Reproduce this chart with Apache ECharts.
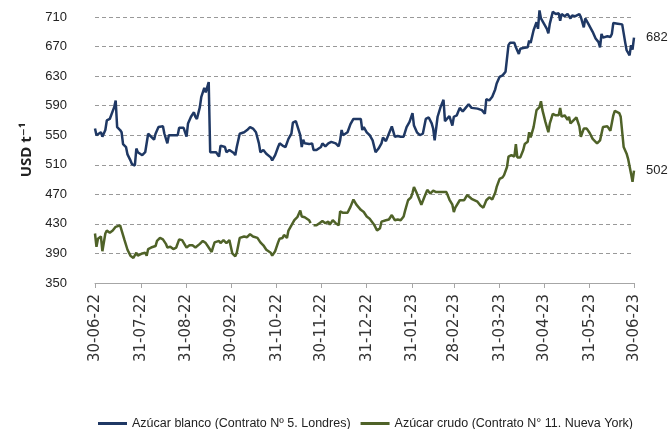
<!DOCTYPE html>
<html><head><meta charset="utf-8">
<script src="https://cdn.jsdelivr.net/npm/echarts@6/dist/echarts.min.js"></script>
<style>html,body{margin:0;padding:0;background:#fff}#c{width:670px;height:429px}</style>
</head><body><div id="c"></div>
<script>
const seriesNames = ['Azúcar blanco (Contrato Nº 5. Londres)', 'Azúcar crudo (Contrato N° 11. Nueva York)'];
const tickDates = ['2022-06-30','2022-07-31','2022-08-31','2022-09-30','2022-10-31','2022-11-30','2022-12-31','2023-01-31','2023-02-28','2023-03-31','2023-04-30','2023-05-31','2023-06-30'];
const tickLabels = ['30-06-22','31-07-22','31-08-22','30-09-22','31-10-22','30-11-22','31-12-22','31-01-23','28-02-23','31-03-23','30-04-23','31-05-23','30-06-23'];
const yTicks = [350, 390, 430, 470, 510, 550, 590, 630, 670, 710];

const blancoDates = [
'2022-06-30','2022-07-01','2022-07-02','2022-07-04','2022-07-05','2022-07-07','2022-07-08','2022-07-10','2022-07-11','2022-07-13','2022-07-14','2022-07-15','2022-07-17','2022-07-18','2022-07-19','2022-07-21','2022-07-22','2022-07-24','2022-07-25','2022-07-27','2022-07-28','2022-07-29',
'2022-08-01','2022-08-03','2022-08-05','2022-08-06','2022-08-09','2022-08-10','2022-08-12','2022-08-15','2022-08-16','2022-08-18','2022-08-19','2022-08-22','2022-08-25','2022-08-26','2022-08-29','2022-08-31',
'2022-09-01','2022-09-03','2022-09-05','2022-09-06','2022-09-07','2022-09-09','2022-09-10','2022-09-12','2022-09-13','2022-09-14','2022-09-15','2022-09-16','2022-09-18','2022-09-20','2022-09-22','2022-09-23','2022-09-24','2022-09-26','2022-09-27','2022-09-29',
'2022-10-02','2022-10-03','2022-10-04','2022-10-06','2022-10-09','2022-10-11','2022-10-13','2022-10-15','2022-10-17','2022-10-19','2022-10-20','2022-10-22','2022-10-24','2022-10-27','2022-10-28','2022-10-30',
'2022-11-01','2022-11-02','2022-11-04','2022-11-06','2022-11-08','2022-11-10','2022-11-11','2022-11-13','2022-11-14','2022-11-16','2022-11-17','2022-11-18','2022-11-19','2022-11-22','2022-11-24','2022-11-25','2022-11-27','2022-11-30',
'2022-12-01','2022-12-03','2022-12-05','2022-12-07','2022-12-10','2022-12-12','2022-12-13','2022-12-14','2022-12-15','2022-12-18','2022-12-20','2022-12-22','2022-12-25','2022-12-27','2022-12-28','2022-12-29','2022-12-31',
'2023-01-02','2023-01-04','2023-01-06','2023-01-08','2023-01-10','2023-01-11','2023-01-13','2023-01-15','2023-01-17','2023-01-19','2023-01-21','2023-01-23','2023-01-25','2023-01-27','2023-01-29','2023-01-31',
'2023-02-01','2023-02-03','2023-02-05','2023-02-07','2023-02-09','2023-02-11','2023-02-13','2023-02-14','2023-02-15','2023-02-17','2023-02-19','2023-02-21','2023-02-22','2023-02-25','2023-02-27','2023-02-28',
'2023-03-02','2023-03-04','2023-03-06','2023-03-08','2023-03-10','2023-03-12','2023-03-16','2023-03-19','2023-03-21','2023-03-22','2023-03-24','2023-03-26','2023-03-28','2023-03-29','2023-03-31',
'2023-04-02','2023-04-04','2023-04-06','2023-04-07','2023-04-10','2023-04-11','2023-04-13','2023-04-14','2023-04-16','2023-04-19','2023-04-20','2023-04-21','2023-04-23','2023-04-25','2023-04-26','2023-04-27','2023-04-28','2023-04-30',
'2023-05-02','2023-05-03','2023-05-04','2023-05-06','2023-05-08','2023-05-10','2023-05-11','2023-05-12','2023-05-14','2023-05-16','2023-05-18','2023-05-19','2023-05-21','2023-05-24','2023-05-25','2023-05-27','2023-05-28','2023-05-30',
'2023-06-02','2023-06-04','2023-06-06','2023-06-07','2023-06-08','2023-06-09','2023-06-12','2023-06-14','2023-06-15','2023-06-16','2023-06-19','2023-06-22','2023-06-24','2023-06-25','2023-06-27','2023-06-28','2023-06-29','2023-06-30'];
const blancoValues = [
559,550,552,554,548,557,570,572,574,588,597,561,557,554,538,534,524,516,511,509,532,527,
523,527,552,550,544,552,561,562,552,539,550,550,550,560,560,548,
566,575,581,575,572,588,602,614,608,606,622,527,527,527,521,536,534,534,527,530,
526,523,534,552,554,557,561,559,554,539,527,530,525,520,516,523,
534,539,536,534,545,552,567,569,568,550,534,544,539,538,539,530,530,534,
539,535,539,541,539,535,543,557,550,554,565,572,572,572,557,561,554,
550,543,527,532,539,547,542,552,562,548,549,548,548,561,568,580,
563,554,550,552,572,574,566,559,543,575,588,598,569,576,563,575,
577,587,582,587,592,587,586,584,579,599,597,602,612,620,629,
631,636,672,675,675,669,660,667,668,669,678,675,692,703,694,719,708,701,
694,688,701,717,714,715,705,714,711,714,708,712,711,714,710,696,708,701,
690,681,676,669,687,682,684,683,687,702,701,700,676,665,658,672,666,682];

const crudoDates = [
'2022-06-30','2022-07-01','2022-07-02','2022-07-04','2022-07-05','2022-07-07','2022-07-08','2022-07-10','2022-07-12','2022-07-14','2022-07-15','2022-07-17','2022-07-18','2022-07-20','2022-07-22','2022-07-24','2022-07-26','2022-07-28','2022-07-29',
'2022-08-01','2022-08-03','2022-08-04','2022-08-05','2022-08-07','2022-08-10','2022-08-11','2022-08-13','2022-08-15','2022-08-17','2022-08-18','2022-08-20','2022-08-22','2022-08-24','2022-08-26','2022-08-28','2022-08-31',
'2022-09-02','2022-09-04','2022-09-06','2022-09-09','2022-09-11','2022-09-13','2022-09-15','2022-09-17','2022-09-18','2022-09-19','2022-09-22','2022-09-23','2022-09-25','2022-09-27','2022-09-29',
'2022-10-01','2022-10-03','2022-10-04','2022-10-06','2022-10-09','2022-10-11','2022-10-13','2022-10-15','2022-10-18','2022-10-20','2022-10-22','2022-10-24','2022-10-27','2022-10-28','2022-10-30',
'2022-11-01','2022-11-02','2022-11-04','2022-11-05','2022-11-07','2022-11-08','2022-11-10','2022-11-12','2022-11-14','2022-11-16','2022-11-17','2022-11-19','2022-11-22','2022-11-23','2022-11-24','2022-11-25','2022-11-27','2022-11-29',
'2022-12-01','2022-12-03','2022-12-05','2022-12-06','2022-12-08','2022-12-10','2022-12-12','2022-12-13','2022-12-15','2022-12-18','2022-12-20','2022-12-22','2022-12-24','2022-12-27','2022-12-29','2022-12-31',
'2023-01-02','2023-01-05','2023-01-07','2023-01-09','2023-01-10','2023-01-13','2023-01-15','2023-01-17','2023-01-19','2023-01-21','2023-01-23','2023-01-25','2023-01-26','2023-01-28','2023-01-30','2023-01-31',
'2023-02-01','2023-02-03','2023-02-04','2023-02-06','2023-02-08','2023-02-10','2023-02-12','2023-02-14','2023-02-16','2023-02-18','2023-02-20','2023-02-23','2023-02-25','2023-02-27','2023-02-28',
'2023-03-01','2023-03-04','2023-03-07','2023-03-09','2023-03-12','2023-03-16','2023-03-18','2023-03-20','2023-03-22','2023-03-24','2023-03-26','2023-03-28','2023-03-29','2023-03-31',
'2023-04-02','2023-04-03','2023-04-05','2023-04-06','2023-04-08','2023-04-10','2023-04-11','2023-04-12','2023-04-14','2023-04-16','2023-04-17','2023-04-19','2023-04-20','2023-04-21','2023-04-23','2023-04-25','2023-04-27','2023-04-28','2023-04-29',
'2023-05-01','2023-05-03','2023-05-04','2023-05-06','2023-05-08','2023-05-10','2023-05-11','2023-05-12','2023-05-14','2023-05-16','2023-05-17','2023-05-18','2023-05-20','2023-05-22','2023-05-24','2023-05-25','2023-05-27','2023-05-29','2023-05-31',
'2023-06-02','2023-06-05','2023-06-06','2023-06-07','2023-06-09','2023-06-12','2023-06-13','2023-06-14','2023-06-16','2023-06-17','2023-06-20','2023-06-21','2023-06-23','2023-06-25','2023-06-26','2023-06-28','2023-06-29','2023-06-30'];
const crudoValues = [
417,399,410,413,393,417,421,418,421,426,428,428,427,408,395,387,384,391,387,
390,391,387,396,398,400,407,411,409,403,398,399,396,398,409,408,398,
401,401,398,403,407,404,398,392,399,405,407,404,408,404,408,
390,386,391,411,413,412,416,413,411,405,401,395,391,387,393,
405,410,411,415,411,421,428,435,439,448,440,439,435,431,null,428,428,431,
434,431,433,429,435,431,428,447,445,445,453,463,456,449,446,440,
437,429,421,424,433,435,436,442,435,436,435,440,448,462,466,472,
480,471,466,456,466,476,471,475,473,473,473,473,463,456,446,
452,462,462,469,464,460,455,452,462,466,463,472,480,491,
493,496,507,521,523,521,538,520,520,530,538,541,554,547,561,584,588,596,584,
568,554,566,579,577,577,587,575,577,571,575,566,570,574,562,548,559,559,553,
545,539,539,543,561,562,560,556,577,583,580,575,534,525,518,498,487,502];

function ts(s) { const p = s.split('-').map(Number); return Date.UTC(p[0], p[1] - 1, p[2]); }
function pairs(dates, vals) { return dates.map((d, i) => [ts(d), vals[i]]); }
const tickTs = tickDates.map(ts);
const narrow = "'Liberation Sans Narrow', 'Liberation Sans', sans-serif";

const chart = echarts.init(document.getElementById('c'), null, { renderer: 'canvas' });
chart.setOption({
  animation: false,
  backgroundColor: '#ffffff',
  color: ['#1F3864', '#4F6228'],
  grid: { left: 95, right: 36, top: 17, bottom: 146, containLabel: false },
  legend: {
    left: 93, top: 412, width: 640, itemWidth: 29, itemHeight: 3, itemGap: 10, icon: 'rect',
    textStyle: { fontFamily: narrow, fontSize: 12.5, color: '#222' },
    data: seriesNames
  },
  xAxis: {
    type: 'value',
    min: tickTs[0], max: tickTs[tickTs.length - 1],
    axisLine: { show: true, lineStyle: { color: '#a6a6a6', width: 1 } },
    axisTick: { show: true, customValues: tickTs, length: 5, inside: false, lineStyle: { color: '#a6a6a6' } },
    axisLabel: {
      customValues: tickTs, rotate: 90, margin: 11, showMinLabel: true, showMaxLabel: true,
      fontFamily: "'DejaVu Sans', sans-serif", fontSize: 15, color: '#333',
      formatter: function (v, i) { const k = tickTs.indexOf(v); return k >= 0 ? tickLabels[k] : (tickLabels[i] || ''); }
    },
    splitLine: { show: false }
  },
  yAxis: {
    type: 'value', min: yTicks[0], max: yTicks[yTicks.length - 1], interval: 40,
    name: 'USD t⁻¹', nameLocation: 'middle', nameRotate: 90, nameGap: 54,
    nameTextStyle: { fontFamily: "'Open Sans', 'DejaVu Sans', sans-serif", fontWeight: 'bold', fontSize: 15, color: '#222' },
    axisLine: { show: false }, axisTick: { show: false },
    axisLabel: { margin: 28, fontFamily: narrow, fontSize: 13, color: '#222' },
    splitLine: { show: true, lineStyle: { color: '#999', type: [4, 3], width: 1 } }
  },
  series: [
    { name: seriesNames[0], type: 'line', data: pairs(blancoDates, blancoValues), showSymbol: false, symbol: 'none', clip: false,
      lineStyle: { width: 2.5, color: '#1F3864' }, itemStyle: { color: '#1F3864' }, connectNulls: false,
      endLabel: { show: true, distance: 12, fontFamily: narrow, fontSize: 13, color: '#222', formatter: p => String(p.value[1]) } },
    { name: seriesNames[1], type: 'line', data: pairs(crudoDates, crudoValues), showSymbol: false, symbol: 'none', clip: false,
      lineStyle: { width: 2.5, color: '#4F6228' }, itemStyle: { color: '#4F6228' }, connectNulls: false,
      endLabel: { show: true, distance: 12, fontFamily: narrow, fontSize: 13, color: '#222', formatter: p => String(p.value[1]) } }
  ]
});
</script></body></html>
